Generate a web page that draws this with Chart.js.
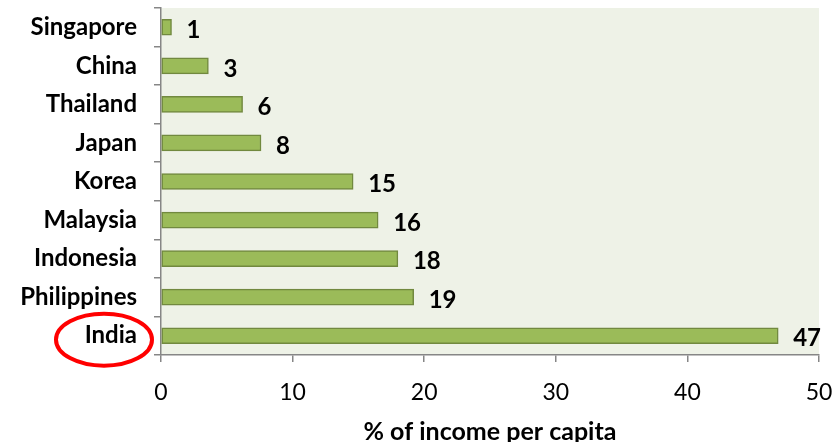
<!DOCTYPE html>
<html>
<head>
<meta charset="UTF-8">
<title>Chart</title>
<script src="https://cdn.jsdelivr.net/npm/chart.js@4/dist/chart.umd.min.js"></script>
<style>
  html, body { margin: 0; padding: 0; background: #fff; }
  #wrap { width: 835px; height: 442px; }
</style>
</head>
<body>
<div id="wrap"><canvas id="canvas" width="835" height="442"></canvas></div>
<script>
const countries = ['Singapore', 'China', 'Thailand', 'Japan', 'Korea', 'Malaysia', 'Indonesia', 'Philippines', 'India'];
const values = [0.8, 3.6, 6.2, 7.6, 14.6, 16.5, 18.0, 19.2, 46.9];
const valueLabels = ['1', '3', '6', '8', '15', '16', '18', '19', '47'];
const xTicks = [0, 10, 20, 30, 40, 50];
const xTitle = '% of income per capita';
const circled = 'India';

const FONT = 'Lato, "Open Sans", sans-serif';

const plotBg = {
  id: 'plotBg',
  beforeDraw(chart) {
    const a = chart.chartArea, ctx = chart.ctx;
    ctx.save();
    ctx.fillStyle = '#EEF2E7';
    ctx.fillRect(a.left, a.top, a.right - a.left, a.bottom - a.top);
    ctx.restore();
  }
};

const barLabels = {
  id: 'barLabels',
  afterDatasetsDraw(chart) {
    const ctx = chart.ctx;
    const meta = chart.getDatasetMeta(0);
    ctx.save();
    ctx.font = 'bold 24px ' + FONT;
    ctx.fillStyle = '#000';
    ctx.textAlign = 'left';
    ctx.textBaseline = 'middle';
    meta.data.forEach((bar, i) => {
      ctx.fillText(valueLabels[i], bar.x + 15, bar.y + 3);
    });
    ctx.restore();
  }
};

const ringLabel = {
  id: 'ringLabel',
  afterDraw(chart) {
    const ctx = chart.ctx;
    const y = chart.scales.y.getPixelForValue(countries.indexOf(circled));
    ctx.save();
    ctx.strokeStyle = '#FF0000';
    ctx.lineWidth = 4;
    ctx.beginPath();
    ctx.ellipse(104, y + 4, 48, 26, 0, 0, Math.PI * 2);
    ctx.stroke();
    ctx.restore();
  }
};

new Chart(document.getElementById('canvas').getContext('2d'), {
  type: 'bar',
  data: {
    labels: countries,
    datasets: [{
      data: values,
      backgroundColor: '#9BBB59',
      borderColor: '#71893F',
      borderWidth: 1.5,
      borderSkipped: false,
      barThickness: 16
    }]
  },
  options: {
    indexAxis: 'y',
    responsive: false,
    animation: false,
    layout: { padding: { top: 8, right: 16, left: 0, bottom: 0 } },
    plugins: { legend: { display: false }, tooltip: { enabled: false } },
    scales: {
      x: {
        min: 0, max: 50,
        afterBuildTicks(s) { s.ticks = xTicks.map(v => ({ value: v })); },
        grid: { drawOnChartArea: false, drawTicks: true, tickLength: 7, color: '#868686', lineWidth: 1.5 },
        border: { color: '#868686', width: 1.5 },
        ticks: { color: '#000', font: { family: FONT, size: 23 }, padding: 17, maxRotation: 0 },
        title: { display: true, text: xTitle, color: '#000', font: { family: FONT, size: 25, weight: 'bold' }, padding: { top: 12, bottom: -5 } },
        afterFit(s) { s.height = 87; s.paddingLeft = 0; s.paddingRight = 0; }
      },
      y: {
        grid: { drawOnChartArea: false, drawTicks: true, tickLength: 7, color: '#868686', lineWidth: 1.5, offset: true },
        border: { color: '#868686', width: 1.5 },
        ticks: { color: '#000', font: { family: FONT, size: 24, weight: 'bold' }, padding: 17 },
        afterFit(s) { s.width = 161; s.paddingTop = 0; s.paddingBottom = 0; }
      }
    }
  },
  plugins: [plotBg, barLabels, ringLabel]
});
</script>
</body>
</html>
